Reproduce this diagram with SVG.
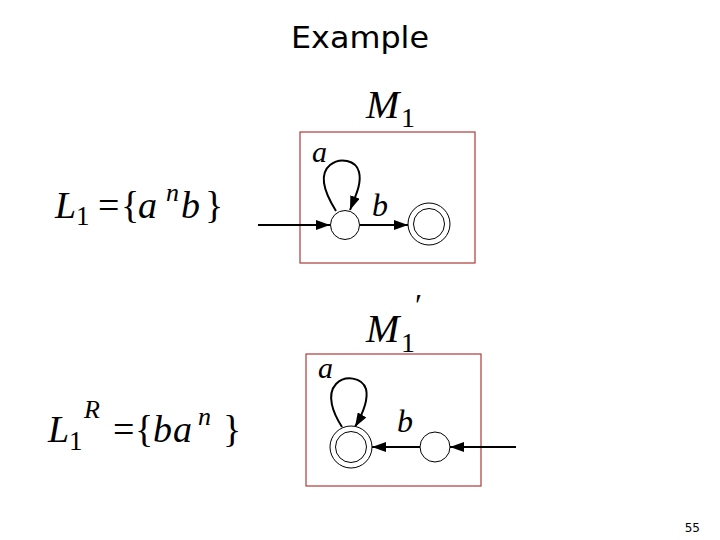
<svg xmlns="http://www.w3.org/2000/svg" width="720" height="540" viewBox="0 0 720 540">
<style>
.box{fill:none;stroke:#b03a3a;stroke-width:1.2}
.st{fill:#fff;stroke:#000;stroke-width:1}
.ed{fill:none;stroke:#000;stroke-width:2}
.m{font-style:italic;fill:#000}
.u{fill:#000}
.tf{font-family:"Liberation Serif",serif}
</style>
<defs>
<marker id="a2" viewBox="0 0 14 10" refX="14" refY="5" markerWidth="14" markerHeight="10" orient="auto" markerUnits="userSpaceOnUse">
<path d="M0,0 L14,5 L0,10 z" fill="#000"/>
</marker>
</defs>
<rect width="720" height="540" fill="#fff"/>
<text x="360" y="48" text-anchor="middle" font-family="DejaVu Sans, sans-serif" font-size="30" textLength="138" lengthAdjust="spacingAndGlyphs">Example</text>
<text x="700" y="532" text-anchor="end" font-family="DejaVu Sans, sans-serif" font-size="12">55</text>

<g id="L1" class="tf">
<text x="55" y="218" class="m" font-size="38">L</text>
<text x="76" y="225" class="u" font-size="27">1</text>
<text x="98" y="218" class="u" font-size="38">=</text>
<text x="121" y="218" class="u" font-size="38">{</text>
<text x="138" y="218" class="m" font-size="38">a</text>
<text x="166" y="201" class="m" font-size="26">n</text>
<text x="181" y="218" class="m" font-size="38">b</text>
<text x="205" y="218" class="u" font-size="38">}</text>
</g>
<g id="L1R" class="tf">
<text x="48" y="442" class="m" font-size="38">L</text>
<text x="69" y="450" class="u" font-size="27">1</text>
<text x="84" y="418" class="m" font-size="26">R</text>
<text x="113" y="442" class="u" font-size="38">=</text>
<text x="135" y="442" class="u" font-size="38">{</text>
<text x="153" y="442" class="m" font-size="38">b</text>
<text x="173" y="442" class="m" font-size="38">a</text>
<text x="198" y="425" class="m" font-size="26">n</text>
<text x="223" y="442" class="u" font-size="38">}</text>
</g>

<g id="M1label" class="tf">
<text x="366" y="118" class="m" font-size="40">M</text>
<text x="401" y="127" class="u" font-size="28">1</text>
</g>
<g id="M1plabel" class="tf">
<text x="366" y="342" class="m" font-size="40">M</text>
<text x="401" y="352" class="u" font-size="28">1</text>
<text x="415" y="316" class="u" font-size="32">′</text>
</g>

<g id="box1"><rect class="box" x="300" y="132" width="175" height="131"/></g>
<g id="box2"><rect class="box" x="306" y="354" width="175" height="132"/></g>

<g id="connectors">
<line class="ed" x1="258" y1="225" x2="330" y2="225" marker-end="url(#a2)"/>
<line class="ed" x1="360" y1="225" x2="408" y2="225" marker-end="url(#a2)"/>
<path class="ed" d="M336,211 C326,195 318,175 330,165 C340,157 356,160 359,172 C362,184 355,197 350,210" marker-end="url(#a2)"/>
<line class="ed" x1="516" y1="447" x2="450" y2="447" marker-end="url(#a2)"/>
<line class="ed" x1="420" y1="447" x2="372" y2="447" marker-end="url(#a2)"/>
<path class="ed" d="M342,427 C333,413 326,395 336,384 C345,375 362,377 366,389 C369,401 362,415 355,427" marker-end="url(#a2)"/>
</g>

<g id="q0"><circle class="st" cx="345" cy="225" r="14.5"/></g>
<g id="q1"><circle class="st" cx="429" cy="224" r="21"/><circle class="st" cx="429" cy="224" r="15.5"/></g>
<g id="p0"><circle class="st" cx="351" cy="447" r="21"/><circle class="st" cx="351" cy="447" r="15.5"/></g>
<g id="p1"><circle class="st" cx="435" cy="447" r="15"/></g>

<g id="labels" class="tf">
<text x="312" y="162" class="m" font-size="30">a</text>
<text x="372" y="216" class="m" font-size="32">b</text>
<text x="318" y="378" class="m" font-size="30">a</text>
<text x="397" y="432" class="m" font-size="32">b</text>
</g>
</svg>
